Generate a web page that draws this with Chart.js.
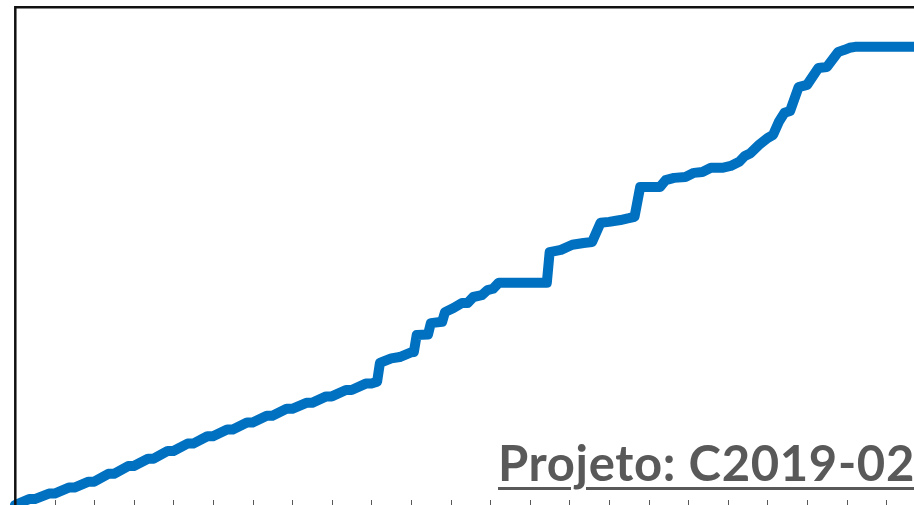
<!DOCTYPE html>
<html lang="pt">
<head>
<meta charset="utf-8">
<title>Projeto: C2019-02</title>
<script src="https://cdn.jsdelivr.net/npm/chart.js@4/dist/chart.umd.min.js"></script>
<style>
  html, body { margin: 0; padding: 0; background: #fff; overflow: hidden; }
  #wrap { position: relative; width: 914px; height: 505px; }
  #curve { position: absolute; left: 0; top: 0; }
  #project {
    position: absolute; left: 498px; top: 438px;
    font-family: Lato, "Open Sans", sans-serif; font-weight: 700; font-size: 49px;
    letter-spacing: 0.65px;
    color: #595959; white-space: nowrap; line-height: 1;
    text-decoration: underline; text-decoration-thickness: 3px; text-underline-offset: 6px;
  }
</style>
</head>
<body>
<div id="wrap">
  <canvas id="curve" width="914" height="505"></canvas>
  <div id="project">Projeto: C2019-02</div>
</div>
<script>
/* Cumulative progress (%) per day of the project.
   Weekly waves early on: work Mon-Fri, flat over the weekend. */
const days = [
  0, 5, 7, 12, 14, 19, 21, 26, 28, 33, 35, 40, 42, 47, 49, 54, 56, 61, 63,
  68, 70, 75, 77, 82, 84, 89, 91, 96, 98, 103, 105, 110, 112, 117, 119, 124, 126,
  128, 129, 133, 136, 140, 141, 142, 146, 147, 151, 152, 155, 158, 160, 162, 165,
  167, 169, 171, 188, 189, 193, 197, 201, 204, 207, 210, 214, 217, 219, 221, 228,
  230, 233, 237, 240, 243, 246, 250, 253, 256, 258, 260, 263, 266, 268, 270, 272,
  274, 277, 280, 284, 287, 291, 293, 295, 297, 320
];
const progress = [
  0, 1.3, 1.3, 2.5, 2.5, 3.8, 3.8, 5.1, 5.1, 6.8, 6.8, 8.5, 8.5, 10.1, 10.1, 11.8, 11.8, 13.4, 13.4,
  15.0, 15.0, 16.5, 16.5, 18.0, 18.0, 19.5, 19.5, 21.0, 21.0, 22.3, 22.3, 23.7, 23.7, 25.1, 25.1, 26.5, 26.5,
  26.9, 31.0, 32.0, 32.3, 33.3, 33.4, 37.1, 37.2, 39.7, 40.0, 42.1, 43.0, 44.1, 44.1, 45.4, 45.8,
  46.9, 47.2, 48.5, 48.5, 55.2, 55.7, 56.8, 57.2, 57.4, 61.6, 61.8, 62.2, 62.6, 62.9, 69.4, 69.4,
  70.9, 71.4, 71.6, 72.5, 72.7, 73.6, 73.6, 74.0, 74.9, 76.2, 76.8, 78.6, 80.1, 80.8, 83.6, 85.6,
  86.0, 91.2, 91.7, 95.4, 95.6, 98.9, 99.3, 99.8, 100, 100
];
// tick marks every two weeks along the time axis
const tickDays = [];
for (let d = 0; d <= 318; d += 14) tickDays.push(d);

const DAY_MAX = 317.8;
const PCT_MAX = 108.7;

// left/top frame and inward tick marks on the bottom axis
const framePlugin = {
  id: "frame",
  afterDatasetsDraw(chart) {
    const { ctx, chartArea: a, scales } = chart;
    ctx.save();
    ctx.strokeStyle = "#595959";
    ctx.lineWidth = 1;
    tickDays.forEach(d => {
      const x = Math.round(scales.x.getPixelForValue(d)) + 0.5;
      ctx.beginPath();
      ctx.moveTo(x, a.bottom);
      ctx.lineTo(x, a.bottom - 5);
      ctx.stroke();
    });
    ctx.strokeStyle = "#111";
    ctx.lineWidth = 2.5;
    ctx.beginPath();
    ctx.moveTo(a.left + 0.3, a.bottom + 2);
    ctx.lineTo(a.left + 0.3, a.top + 0.3);
    ctx.lineTo(a.right + 2, a.top + 0.3);
    ctx.stroke();
    ctx.restore();
  }
};

new Chart(document.getElementById("curve"), {
  type: "line",
  data: {
    datasets: [{
      data: days.map((d, i) => ({ x: d, y: progress[i] })),
      borderColor: "#0070C0",
      borderWidth: 10,
      borderJoinStyle: "round",
      borderCapStyle: "round",
      pointRadius: 0,
      tension: 0,
      fill: false,
      clip: false
    }]
  },
  options: {
    responsive: false,
    animation: false,
    layout: { padding: { left: 15, top: 7, right: 0, bottom: 0 } },
    plugins: { legend: { display: false }, tooltip: { enabled: false } },
    scales: {
      x: { type: "linear", min: 0, max: DAY_MAX, display: false },
      y: { min: 0, max: PCT_MAX, display: false }
    }
  },
  plugins: [framePlugin]
});
</script>
</body>
</html>
